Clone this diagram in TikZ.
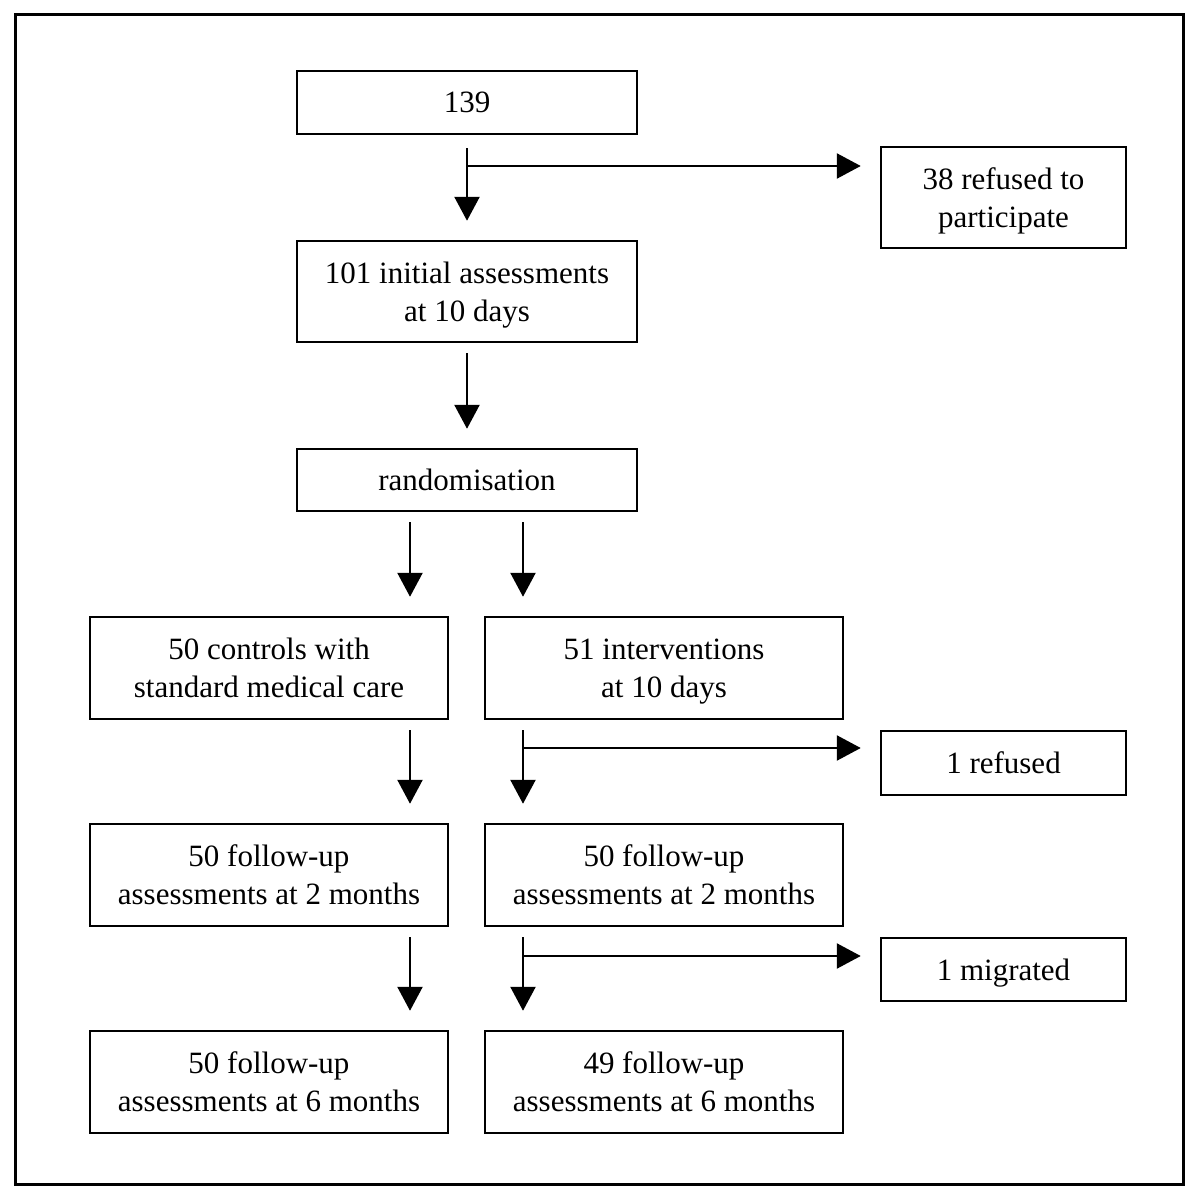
\documentclass[tikz,border=0pt]{standalone}
\usepackage{fontspec}
\setmainfont{Liberation Serif}
\usetikzlibrary{arrows.meta,calc}
\begin{document}
\begin{tikzpicture}[x=1pt,y=-1pt,
  box/.style={draw,line width=2.5pt,align=center,inner sep=0pt,text depth=-3pt,
    font=\fontsize{31}{38}\selectfont},
  arr/.style={line width=2.5pt,-{Triangle[length=24pt,width=25pt]}}]
\useasboundingbox (0,0) rectangle (1200,1196);
\draw[line width=3pt] (15,15) rectangle (1183,1184);
% boxes
\node[box,minimum width=340pt,minimum height=63pt] (n139) at (467,102.5) {139};
\node[box,minimum width=245pt,minimum height=101pt] (ref38) at (1003.5,197.5) {38 refused to\\participate};
\node[box,minimum width=340pt,minimum height=101pt] (init) at (467,291.5) {101 initial assessments\\at 10 days};
\node[box,minimum width=340pt,minimum height=62pt] (rand) at (467,480) {randomisation};
\node[box,minimum width=358pt,minimum height=102pt] (ctrl) at (269,668) {50 controls with\\standard medical care};
\node[box,minimum width=358pt,minimum height=102pt] (intv) at (664,668) {51 interventions\\at 10 days};
\node[box,minimum width=245pt,minimum height=64pt] (ref1) at (1003.5,763) {1 refused};
\node[box,minimum width=358pt,minimum height=102pt] (fuL2) at (269,875) {50 follow-up\\assessments at 2 months};
\node[box,minimum width=358pt,minimum height=102pt] (fuR2) at (664,875) {50 follow-up\\assessments at 2 months};
\node[box,minimum width=245pt,minimum height=63pt] (mig) at (1003.5,969.5) {1 migrated};
\node[box,minimum width=358pt,minimum height=102pt] (fuL6) at (269,1082) {50 follow-up\\assessments at 6 months};
\node[box,minimum width=358pt,minimum height=102pt] (fuR6) at (664,1082) {49 follow-up\\assessments at 6 months};
% coordinates
\coordinate (b1) at (467,166);
\coordinate (b2) at (523,748);
\coordinate (b3) at (523,956);
\coordinate (rL) at (410,0);
\coordinate (rR) at (523,0);
% arrows
\draw[arr,shorten <=13pt,shorten >=19pt] (n139.south) -- (init.north);
\draw[arr,shorten >=19pt] (b1) -- (b1 -| ref38.west);
\draw[arr,shorten <=10pt,shorten >=19pt] (init.south) -- (rand.north);
\draw[arr,shorten <=10pt,shorten >=19pt] (rand.south -| rL) -- (ctrl.north -| rL);
\draw[arr,shorten <=10pt,shorten >=19pt] (rand.south -| rR) -- (intv.north -| rR);
\draw[arr,shorten <=10pt,shorten >=19pt] (ctrl.south -| rL) -- (fuL2.north -| rL);
\draw[arr,shorten <=10pt,shorten >=19pt] (intv.south -| rR) -- (fuR2.north -| rR);
\draw[arr,shorten >=19pt] (b2) -- (b2 -| ref1.west);
\draw[arr,shorten <=10pt,shorten >=19pt] (fuL2.south -| rL) -- (fuL6.north -| rL);
\draw[arr,shorten <=10pt,shorten >=19pt] (fuR2.south -| rR) -- (fuR6.north -| rR);
\draw[arr,shorten >=19pt] (b3) -- (b3 -| mig.west);
\end{tikzpicture}
\end{document}
